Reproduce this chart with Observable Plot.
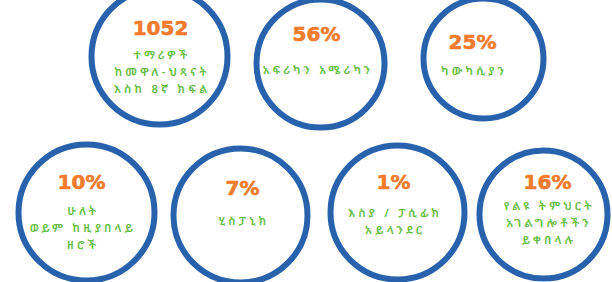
<!DOCTYPE html>
<html>
<head>
<meta charset="utf-8">
<script src="https://cdn.jsdelivr.net/npm/d3@7"></script>
<script src="https://cdn.jsdelivr.net/npm/@observablehq/plot@0.6"></script>
<style>
  html, body { margin: 0; padding: 0; background: #fff; }
  .eth text, .eth tspan { letter-spacing: 3.2px; }
</style>
</head>
<body>
<div id="chart"></div>
<script>
// Data
const categories = [
  "ተማሪዎች\nከመዋለ-ህጻናት\nእስከ 8ኛ ክፍል",
  "አፍሪካን አሜሪካን",
  "ካውካሲያን",
  "ሁለት\nወይም ከዚያበላይ\nዘሮች",
  "ሂስፓኒክ",
  "እስያ / ፓሲፊክ\nአይላንደር",
  "የልዩ ትምህርት\nአገልግሎቶችን\nይቀበላሉ"
];
const values = ["1052", "56%", "25%", "10%", "7%", "1%", "16%"];

// Layout (circle centres/radii in page units)
const cx = [159, 320, 483, 86, 240, 397, 543];
const cy = [56, 63, 58, 212, 215, 212, 214];
const rad = [68, 64, 60, 68, 67, 67, 64];
const numX = [160, 316, 472, 81, 242, 393, 547];
const numY = [28, 34, 42, 182, 188, 182, 182];
const txtY = [52, 67, 68, 208, 218, 210, 203];

const rows = categories.map((c, i) => ({
  label: c, value: values[i],
  cx: cx[i], cy: cy[i], r: rad[i],
  nx: numX[i], ny: numY[i], ty: txtY[i]
}));

const chart = Plot.plot({
  width: 612,
  height: 282,
  margin: 0,
  x: {domain: [0, 612], axis: null},
  y: {domain: [282, 0], axis: null},
  r: {type: "identity"},
  marks: [
    Plot.dot(rows, {x: "cx", y: "cy", r: "r", stroke: "#2862ad", strokeWidth: 6, fill: "white"}),
    Plot.text(rows, {x: "nx", y: "ny", text: "value", fill: "#f27a2c", stroke: "#f27a2c", strokeWidth: 0.6, fontSize: 20, fontWeight: "bold", fontFamily: "'DejaVu Sans', sans-serif"}),
    Plot.text(rows, {x: "nx", y: "ty", text: "label", fill: "#66bd45", fontSize: 11.5, fontWeight: 600, lineHeight: 1.5, lineAnchor: "top", dy: -6, dx: 1.6, fontFamily: "'Noto Sans Ethiopic', 'Abyssinica SIL', 'Noto Sans', sans-serif"})
  ]
});
const groups = chart.querySelectorAll('g[aria-label="text"]');
groups[groups.length - 1].classList.add("eth");
document.getElementById("chart").appendChild(chart);
</script>
</body>
</html>
